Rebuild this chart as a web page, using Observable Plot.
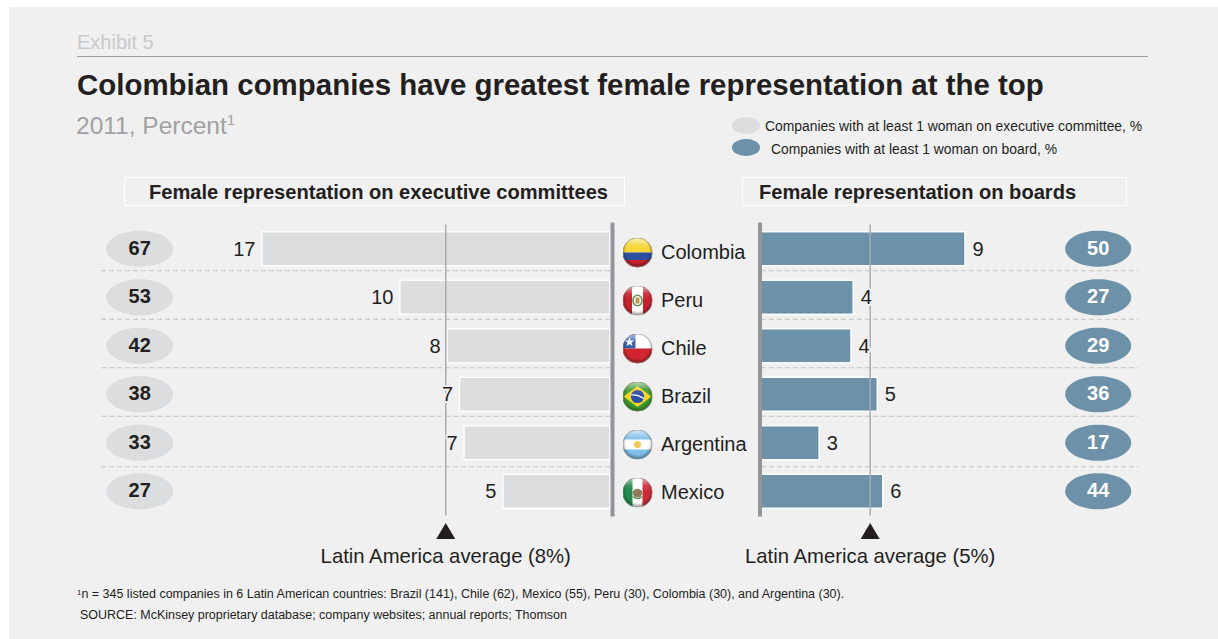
<!DOCTYPE html>
<html>
<head>
<meta charset="utf-8">
<script src="https://cdn.jsdelivr.net/npm/d3@7"></script>
<script src="https://cdn.jsdelivr.net/npm/@observablehq/plot@0.6"></script>
<style>
html,body{margin:0;padding:0;background:#fff;overflow:hidden}
#root{position:relative;width:1218px;height:639px;font-family:"Liberation Sans",Arial,sans-serif;color:#231f20;overflow:hidden}
#panel{position:absolute;left:9px;top:7px;right:0;bottom:0;background:#f0f0f0}
.t{position:absolute;white-space:nowrap;line-height:1}
.plot{position:absolute}
.plot svg{display:block;background:transparent;overflow:visible}
.box{position:absolute;border:1px solid #fff;box-sizing:border-box}
.el{position:absolute;border-radius:50%}
sup{font-size:.62em;line-height:0;vertical-align:baseline;position:relative;top:-.6em}
</style>
</head>
<body>
<div id="root"><div id="panel"></div></div>
<script>
const countries = ["Colombia", "Peru", "Chile", "Brazil", "Argentina", "Mexico"];
const execValues = [17, 10.26, 7.96, 7.35, 7.13, 5.23];
const execLabels = ["17", "10", "8", "7", "7", "5"];
const execShares = [67, 53, 42, 38, 33, 27];
const boardValues = [9.3, 4.2, 4.1, 5.3, 2.65, 5.55];
const boardLabels = ["9", "4", "4", "5", "3", "6"];
const boardShares = [50, 27, 29, 36, 17, 44];
const execAverage = 8;
const boardAverage = 5;
const execAverageLabel = "Latin America average (8%)";
const boardAverageLabel = "Latin America average (5%)";

const ink = "#231f20", pale = "#dcddde", steel = "#6c91a8", axisGray = "#939598", avgGray = "#a9abae", dash = "#c4c4c4", bg = "#f0f0f0";

const root = document.getElementById("root");
function text(html, x, top, size, extra = {}) {
  const d = document.createElement("div");
  d.className = "t";
  d.innerHTML = html;
  Object.assign(d.style, {left: x + "px", top: top + "px", fontSize: size + "px"}, extra);
  root.appendChild(d);
  return d;
}
function place(node, left, top) {
  const w = document.createElement("div");
  w.className = "plot";
  w.style.left = left + "px";
  w.style.top = top + "px";
  w.appendChild(node);
  root.appendChild(w);
}

// Headers
text("Exhibit 5", 77, 32, 20, {color: "#c9cacc"});
const hr = document.createElement("div");
Object.assign(hr.style, {position: "absolute", left: "77px", top: "56px", width: "1071px", height: "1px", background: "#9a9b9d"});
root.appendChild(hr);
text("Colombian companies have greatest female representation at the top", 77, 70, 29.45, {fontWeight: "bold"});
text("2011, Percent<sup>1</sup>", 76, 114, 24.5, {color: "#a0a1a3"});

// Legend
[[116.5, pale], [139, steel]].forEach(([top, c]) => {
  const e = document.createElement("div");
  e.className = "el";
  Object.assign(e.style, {left: "732px", top: top + "px", width: "28px", height: "17px", background: c});
  root.appendChild(e);
});
text("Companies with at least 1 woman on executive committee, %", 765, 120, 13.88);
text("Companies with at least 1 woman on board, %", 771, 143, 13.88);

// Panel titles
[[124, 501], [742, 385]].forEach(([l, w]) => {
  const b = document.createElement("div");
  b.className = "box";
  Object.assign(b.style, {left: l + "px", top: "177px", width: w + "px", height: "29px"});
  root.appendChild(b);
});
text("Female representation on executive committees", 149, 182, 20.1, {fontWeight: "bold"});
text("Female representation on boards", 759, 182, 20.1, {fontWeight: "bold"});

// Footer
text("<span style='font-size:8px;position:relative;top:-3px'>1</span>n = 345 listed companies in 6 Latin American countries: Brazil (141), Chile (62), Mexico (55), Peru (30), Colombia (30), and Argentina (30).", 77, 588, 12.47);
text("SOURCE: McKinsey proprietary database; company websites; annual reports; Thomson", 80, 609, 12.47);

// Symbols
const ellipse = (rx, ry) => ({draw(p) {
  const k = 0.5523;
  p.moveTo(-rx, 0);
  p.bezierCurveTo(-rx, -k * ry, -k * rx, -ry, 0, -ry);
  p.bezierCurveTo(k * rx, -ry, rx, -k * ry, rx, 0);
  p.bezierCurveTo(rx, k * ry, k * rx, ry, 0, ry);
  p.bezierCurveTo(-k * rx, ry, -rx, k * ry, -rx, 0);
  p.closePath();
}});
const marker = {draw(p) {
  p.moveTo(0, -8);
  p.lineTo(9.5, 8);
  p.lineTo(-9.5, 8);
  p.closePath();
}};

// One bar panel
function panel({values, labels, shares, average, averageLabel, color, shareColor, domain, range, width, pillAt, pillRx, edge, anchor, labelDx, axisDx}) {
  const rows = countries.map((c, i) => ({country: c, value: values[i], label: labels[i], share: shares[i]}));
  const rule = (data, dy) => Plot.ruleY(data, {y: "country", x1: 0, x2: edge, dy, stroke: dash, strokeWidth: 1, strokeDasharray: "5,3"});
  return Plot.plot({
    width, height: 360, marginTop: 9.5, marginBottom: 59.5, marginLeft: 0, marginRight: 0,
    x: {domain, range, axis: null},
    y: {domain: countries, paddingInner: 0.3, paddingOuter: 0.15, round: false, axis: null},
    style: {background: "transparent", fontFamily: '"Liberation Sans",Arial,sans-serif'},
    marks: [
      rule(rows.slice(0, 4), 21.5),
      rule(rows.slice(4, 5), 23.5),
      Plot.barX(rows, {x: "value", y: "country", fill: color, stroke: "#fff", strokeWidth: 1.4}),
      Plot.ruleX([average], {stroke: avgGray, strokeWidth: 1.5, dx: -1}),
      Plot.ruleX([0], {stroke: axisGray, strokeWidth: 4, dx: axisDx, insetTop: -2, insetBottom: -1}),
      Plot.text(rows, {x: "value", y: "country", text: "label", textAnchor: anchor, dx: labelDx, fontSize: 20, fill: ink, stroke: bg, strokeWidth: 4}),
      Plot.dot(rows, {x: () => pillAt, y: "country", symbol: ellipse(pillRx, 18), dy: -0.5, fill: shareColor}),
      Plot.text(rows, {x: () => pillAt, y: "country", text: "share", fontSize: 20, fontWeight: "bold", dy: -1, fill: shareColor === steel ? "#fff" : ink}),
      Plot.dot([average], {x: d => d, frameAnchor: "bottom", dx: -1, dy: 15, symbol: marker, fill: ink}),
      Plot.text([averageLabel], {x: () => average, frameAnchor: "bottom", dx: -1, dy: 47, text: d => d, fontSize: 20.3, fill: ink})
    ]
  });
}

place(panel({
  values: execValues, labels: execLabels, shares: execShares, average: execAverage, averageLabel: execAverageLabel,
  color: pale, shareColor: pale, domain: [0, 17], range: [610, 262], width: 620,
  pillAt: 23.0, pillRx: 33.5, edge: 25.0, anchor: "end", labelDx: -7, axisDx: 2
}), 0, 215);

place(panel({
  values: boardValues, labels: boardLabels, shares: boardShares, average: boardAverage, averageLabel: boardAverageLabel,
  color: steel, shareColor: steel, domain: [0, 9.3], range: [11, 215], width: 468,
  pillAt: 15.35, pillRx: 33, edge: 17.2, anchor: "start", labelDx: 7, axisDx: -1.5
}), 750, 215);

// Flags
const g = {
  Colombia: `<rect width="30" height="15" fill="#f6d531"/><rect y="15" width="30" height="7.5" fill="#2c4f9e"/><rect y="22.5" width="30" height="7.5" fill="#c8202c"/>`,
  Peru: `<rect width="30" height="30" fill="#fff"/><rect width="9.5" height="30" fill="#c8202c"/><rect x="20.5" width="9.5" height="30" fill="#c8202c"/><ellipse cx="15" cy="15" rx="4.6" ry="5.2" fill="none" stroke="#5f8a4a" stroke-width="1.5"/><rect x="13" y="12" width="4" height="6" fill="#b99a50"/>`,
  Chile: `<rect width="30" height="15" fill="#fff"/><rect width="13" height="15" fill="#2f5da6"/><rect y="15" width="30" height="15" fill="#d1262e"/><polygon points="7,3.5 8.2,7 11.8,7 8.9,9.1 10,12.6 7,10.4 4,12.6 5.1,9.1 2.2,7 5.8,7" fill="#fff"/>`,
  Brazil: `<rect width="30" height="30" fill="#3d9a2c"/><polygon points="15,4.5 29,15 15,25.5 1,15" fill="#f5d327"/><circle cx="15" cy="15" r="6.6" fill="#2b4fa0"/><path d="M8.6 13.5 Q15 12.5 21.4 17" stroke="#fff" stroke-width="1.2" fill="none"/>`,
  Argentina: `<rect width="30" height="30" fill="#fff"/><rect width="30" height="10" fill="#7fc0ea"/><rect y="20" width="30" height="10" fill="#7fc0ea"/><circle cx="15" cy="15" r="3.6" fill="#f3c95a"/>`,
  Mexico: `<rect width="30" height="30" fill="#fff"/><rect width="10" height="30" fill="#1f8a4c"/><rect x="20" width="10" height="30" fill="#ce2b37"/><ellipse cx="15" cy="15.5" rx="4.8" ry="4.2" fill="#8f7a55"/><path d="M10.5 19 Q15 23 19.5 19" stroke="#5e8a4d" stroke-width="1.3" fill="none"/>`
};
const flagUri = name => "data:image/svg+xml," + encodeURIComponent(
  `<svg xmlns="http://www.w3.org/2000/svg" width="60" height="60" viewBox="0 0 30 30"><defs>
  <radialGradient id="e" cx="50%" cy="45%" r="52%"><stop offset="75%" stop-color="#000" stop-opacity="0"/><stop offset="100%" stop-color="#000" stop-opacity=".35"/></radialGradient>
  <linearGradient id="s" x1="0" y1="0" x2="0" y2="1"><stop offset="0" stop-color="#fff" stop-opacity=".65"/><stop offset=".5" stop-color="#fff" stop-opacity=".1"/><stop offset="1" stop-color="#fff" stop-opacity="0"/></linearGradient>
  <clipPath id="c"><circle cx="15" cy="15" r="15"/></clipPath></defs>
  <g clip-path="url(#c)">${g[name]}<rect width="30" height="30" fill="url(#e)"/><ellipse cx="15" cy="8" rx="12.5" ry="7.5" fill="url(#s)"/></g>
  <circle cx="15" cy="15" r="14.6" fill="none" stroke="#999" stroke-width=".6"/></svg>`);

const centerRows = countries.map(c => ({country: c, src: flagUri(c)}));
place(Plot.plot({
  width: 150, height: 360, marginTop: 13, marginBottom: 59, marginLeft: 0, marginRight: 0,
  x: {type: "point", domain: ["flag", "name"], range: [22, 46], padding: 0, axis: null},
  y: {domain: countries, padding: 0.5, round: false, axis: null},
  style: {background: "transparent", fontFamily: '"Liberation Sans",Arial,sans-serif'},
  marks: [
    Plot.image(centerRows, {x: () => "flag", y: "country", src: "src", width: 30, height: 30}),
    Plot.text(centerRows, {x: () => "name", y: "country", text: "country", textAnchor: "start", fontSize: 20, fill: ink, dx: -0.5})
  ]
}), 615, 215);
</script>
</body>
</html>
